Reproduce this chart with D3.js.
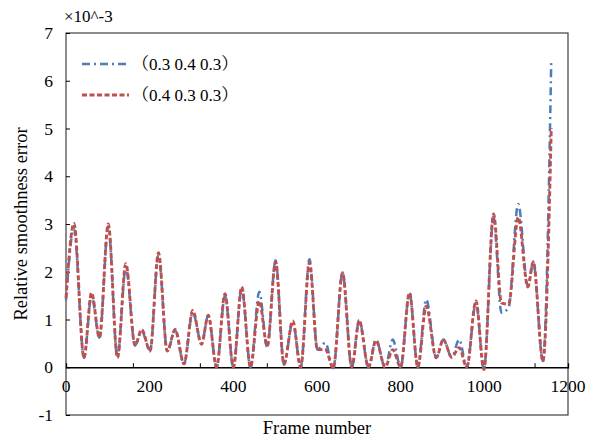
<!DOCTYPE html>
<html>
<head>
<meta charset="utf-8">
<script src="https://cdn.jsdelivr.net/npm/d3@7"></script>
<style>
  body { margin: 0; background: #fff; }
  text { font-family: "Liberation Serif", "Noto Serif CJK SC", "Noto Sans CJK SC", serif; fill: #000; }
</style>
</head>
<body>
<script>
// frame numbers at the turning points of both curves
const frames = [0, 19, 43, 61, 80, 101, 123, 143, 165, 181, 201, 221, 242, 261, 282, 303, 324, 340, 360, 380,
  400, 420, 441, 462, 481, 501, 521, 542, 561, 582, 601, 620, 639, 661, 683, 701, 723, 741, 763, 781,
  800, 821, 841, 861, 885, 902, 922, 940, 958, 980, 999, 1022, 1041, 1058, 1081, 1104, 1117, 1140, 1160];

// (0.3 0.4 0.3), blue dash-dot, x10^-3
const blueVals = [1.40, 2.90, 0.20, 1.50, 0.62, 2.95, 0.20, 2.10, 0.46, 0.75, 0.36, 2.35, 0.34, 0.77, 0.07, 1.15, 0.50, 1.08, 0.00, 1.50,
  0.00, 1.65, 0.00, 1.58, 0.42, 2.24, 0.06, 0.95, 0.00, 2.26, 0.37, 0.51, -0.02, 1.98, 0.00, 0.98, 0.00, 0.58, 0.00, 0.58,
  0.00, 1.56, 0.00, 1.42, 0.20, 0.58, 0.21, 0.58, 0.00, 1.35, -0.05, 3.15, 1.14, 1.25, 3.42, 1.70, 2.20, 0.13, 6.43];

// (0.4 0.3 0.3), red dashed
const redVals = [1.45, 3.01, 0.20, 1.56, 0.62, 3.00, 0.20, 2.17, 0.46, 0.79, 0.34, 2.40, 0.34, 0.79, 0.07, 1.19, 0.48, 1.09, 0.00, 1.54,
  0.00, 1.68, 0.00, 1.39, 0.44, 2.21, 0.06, 0.97, 0.00, 2.19, 0.37, 0.37, -0.02, 1.98, 0.00, 0.98, 0.00, 0.56, 0.00, 0.37,
  0.00, 1.56, 0.00, 1.28, 0.20, 0.58, 0.21, 0.41, 0.00, 1.39, -0.05, 3.21, 1.35, 1.32, 3.14, 1.68, 2.21, 0.13, 5.01];

const seriesNames = ["\uFF080.3 0.4 0.3\uFF09", "\uFF080.4 0.3 0.3\uFF09"];
const xLabels = [0, 200, 400, 600, 800, 1000, 1200];
const xMinorTicks = [160, 320, 480, 640, 800, 960, 1120];
const yTicks = [-1, 0, 1, 2, 3, 4, 5, 6, 7];

const W = 595, H = 438;
const m = { left: 66, right: 27, top: 33, bottom: 23 };

const svg = d3.select("body").append("svg").attr("width", W).attr("height", H);

const x = d3.scaleLinear().domain([0, 1200]).range([m.left, W - m.right]);
const y = d3.scaleLinear().domain([-1, 7]).range([H - m.bottom, m.top]);

// frame box
svg.append("rect")
  .attr("x", x(0)).attr("y", y(7))
  .attr("width", x(1200) - x(0)).attr("height", y(-1) - y(7))
  .attr("fill", "none").attr("stroke", "#404040").attr("stroke-width", 1.2);

// y axis ticks (inside)
const yAxis = d3.axisRight(y).tickValues(yTicks).tickSize(4).tickFormat("");
svg.append("g").attr("transform", `translate(${x(0)},0)`).call(yAxis)
  .call(g => g.select(".domain").remove())
  .call(g => g.selectAll("line").attr("stroke", "#000"));

svg.append("g").selectAll("text").data(yTicks).join("text")
  .attr("x", 53).attr("y", d => y(d)).attr("dy", "0.35em")
  .attr("text-anchor", "end").attr("font-size", 17.5)
  .text(d => d);

// x axis on the zero line
const xAxis = d3.axisTop(x).tickValues(xMinorTicks).tickSize(4).tickFormat("");
svg.append("g").attr("transform", `translate(0,${y(0)})`).call(xAxis)
  .call(g => g.select(".domain").attr("stroke", "#000").attr("stroke-width", 1.3))
  .call(g => g.selectAll(".tick line").attr("stroke", "#000"));

svg.append("g").selectAll("text").data(xLabels).join("text")
  .attr("x", d => x(d)).attr("y", y(0) + 25)
  .attr("text-anchor", "middle").attr("font-size", 17.5)
  .text(d => d);

// titles
svg.append("text").attr("x", (x(0) + x(1200)) / 2).attr("y", 434)
  .attr("text-anchor", "middle").attr("font-size", 18.5).text("Frame number");
svg.append("text").attr("transform", `translate(27,${(y(7) + y(-1)) / 2}) rotate(-90)`)
  .attr("text-anchor", "middle").attr("font-size", 18.5).text("Relative smoothness error");
svg.append("text").attr("x", 64).attr("y", 22).attr("font-size", 17).text("\u00D710^-3");

// curves
const blueData = frames.map((f, i) => ({ f, v: blueVals[i] }));
const redData = frames.map((f, i) => ({ f, v: redVals[i] }));

const line = d3.line().x(d => x(d.f)).y(d => y(d.v)).curve(d3.curveMonotoneX);

const styles = [
  { color: "#4a7ebb", dash: "8,4,2,4", width: 2.5 },
  { color: "#c0504d", dash: "5,2.5", width: 2.9 }
];

svg.append("path").datum(blueData).attr("d", line)
  .attr("fill", "none").attr("stroke", styles[0].color)
  .attr("stroke-width", styles[0].width).attr("stroke-dasharray", styles[0].dash);
svg.append("path").datum(redData).attr("d", line)
  .attr("fill", "none").attr("stroke", styles[1].color)
  .attr("stroke-width", styles[1].width).attr("stroke-dasharray", styles[1].dash);

// legend
const legend = svg.append("g").selectAll("g").data(seriesNames).join("g")
  .attr("transform", (d, i) => `translate(82,${64 + i * 31})`);
legend.append("line").attr("x1", 0).attr("x2", 47)
  .attr("stroke", (d, i) => styles[i].color)
  .attr("stroke-width", (d, i) => styles[i].width)
  .attr("stroke-dasharray", (d, i) => styles[i].dash);
legend.append("text").attr("x", 50).attr("dy", "0.35em").attr("font-size", 17)
  .text(d => d);
</script>
</body>
</html>
